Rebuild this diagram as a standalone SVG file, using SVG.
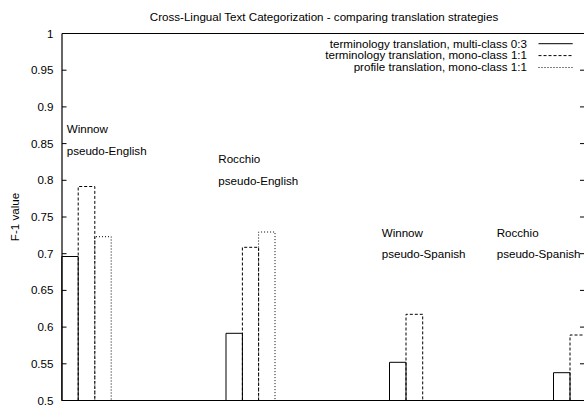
<svg xmlns="http://www.w3.org/2000/svg" width="584" height="405" viewBox="0 0 584 405">
<style>
text{font-family:"Liberation Sans",Arial,Helvetica,sans-serif;font-size:11.6px;fill:#000}
.ytl{text-anchor:end}
.ax{stroke:#000;stroke-width:1.2;fill:none}
.tk{stroke:#000;stroke-width:1;fill:none}
.b1{stroke:#000;stroke-width:1;fill:none}
.b2{stroke:#000;stroke-width:1;fill:none;stroke-dasharray:3 2}
.b3{stroke:#000;stroke-width:1;fill:none;stroke-dasharray:1 2}
</style>
<rect width="584" height="405" fill="#fff"/>
<text id="title" x="324" y="21" text-anchor="middle">Cross-Lingual Text Categorization - comparing translation strategies</text>
<text id="ylabel" x="19" y="217" text-anchor="middle" transform="rotate(-90 19 217)">F-1 value</text>
<g id="axes">
<path class="ax" d="M62,33.5 H584 M62,33.5 V400.5 H584"/>
<path class="tk" d="M62,70.2h4.5 M62,106.9h4.5 M62,143.6h4.5 M62,180.3h4.5 M62,217h4.5 M62,253.7h4.5 M62,290.4h4.5 M62,327.1h4.5 M62,363.8h4.5"/>
<path class="tk" d="M584,70.2h-4 M584,106.9h-4 M584,143.6h-4 M584,180.3h-4 M584,217h-4 M584,253.7h-4 M584,290.4h-4 M584,327.1h-4 M584,363.8h-4"/>
<text class="ytl" x="53.5" y="37.5">1</text>
<text class="ytl" x="53.5" y="74.2">0.95</text>
<text class="ytl" x="53.5" y="110.9">0.9</text>
<text class="ytl" x="53.5" y="147.6">0.85</text>
<text class="ytl" x="53.5" y="184.3">0.8</text>
<text class="ytl" x="53.5" y="221">0.75</text>
<text class="ytl" x="53.5" y="257.7">0.7</text>
<text class="ytl" x="53.5" y="294.4">0.65</text>
<text class="ytl" x="53.5" y="331.1">0.6</text>
<text class="ytl" x="53.5" y="367.8">0.55</text>
<text class="ytl" x="53.5" y="404.5">0.5</text>
</g>
<g id="legend">
<text x="527" y="47.5" text-anchor="end">terminology translation, multi-class 0:3</text>
<text x="527" y="59.4" text-anchor="end">terminology translation, mono-class 1:1</text>
<text x="527" y="71.3" text-anchor="end">profile translation, mono-class 1:1</text>
<path class="b1" d="M538.5,43.7H572.7"/>
<path class="b2" d="M538.5,55.6H572.7"/>
<path class="b3" d="M538.5,67.5H572.7"/>
</g>
<g id="group-winnow-english">
<path class="b1" d="M61.8,400.5V256.5H78.2V400.5"/>
<path class="b2" d="M78.2,400.5V186.5H94.8V400.5"/>
<path class="b3" d="M94.8,400.5V236.7H111.2V400.5"/>
<text x="66.7" y="132.7">Winnow</text>
<text x="66.7" y="155">pseudo-English</text>
</g>
<g id="group-rocchio-english">
<path class="b1" d="M226,400.5V333.3H242.4V400.5"/>
<path class="b2" d="M242.4,400.5V247.3H258.6V400.5"/>
<path class="b3" d="M258.6,400.5V232H275V400.5"/>
<text x="218.3" y="162.5">Rocchio</text>
<text x="218.3" y="184.5">pseudo-English</text>
</g>
<g id="group-winnow-spanish">
<path class="b1" d="M389.5,400.5V362.3H406V400.5"/>
<path class="b2" d="M406,400.5V314.3H422.7V400.5"/>
<text x="381.7" y="236.7">Winnow</text>
<text x="381.7" y="258.3">pseudo-Spanish</text>
</g>
<g id="group-rocchio-spanish">
<path class="b1" d="M553.5,400.5V372.7H570V400.5"/>
<path class="b2" d="M570,400.5V335H586.4V400.5"/>
<text x="496.7" y="236.7">Rocchio</text>
<text x="496.7" y="258.3">pseudo-Spanish</text>
</g>
</svg>
